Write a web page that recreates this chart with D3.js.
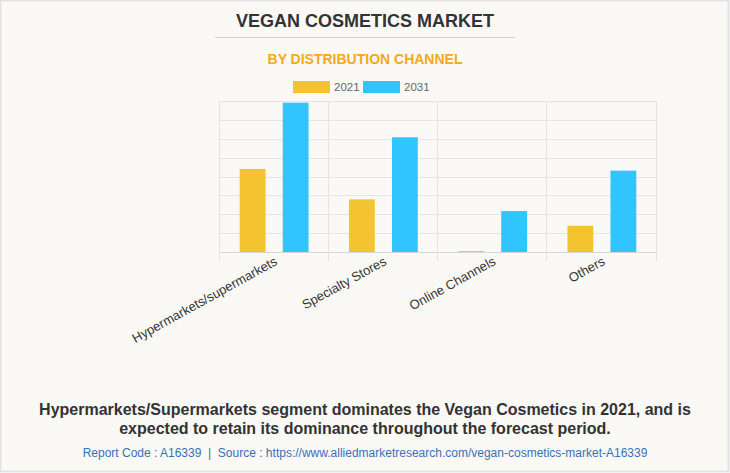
<!DOCTYPE html>
<html><head><meta charset="utf-8">
<script src="https://cdn.jsdelivr.net/npm/d3@7"></script>
<style>
html,body{margin:0;padding:0;background:#fff;}
svg{display:block;font-family:"Liberation Sans",Arial,sans-serif;}
</style></head>
<body><svg id="c" width="730" height="473"></svg>
<script>
const categories = ["Hypermarkets/supermarkets","Specialty Stores","Online Channels","Others"];
const seriesNames = ["2021","2031"];
const values2021 = [4.40, 2.79, 0.05, 1.39];
const values2031 = [7.91, 6.08, 2.17, 4.31];
const yTicks = [0,1,2,3,4,5,6,7,8];
const colors = ["#F4C430","#30C5FF"];

(function(){
const svg = d3.select("#c");
svg.append("rect").attr("x",0.5).attr("y",0.5).attr("width",728).attr("height",471)
  .attr("fill","#FAF9F5").attr("stroke","#e3e3e3").attr("stroke-width",2);

svg.append("text").attr("x",365).attr("y",27).attr("text-anchor","middle")
  .attr("font-size",18).attr("font-weight","bold").attr("fill","#333")
  .text("VEGAN COSMETICS MARKET");
svg.append("line").attr("x1",215).attr("x2",515).attr("y1",37.5).attr("y2",37.5)
  .attr("stroke","#cfcfcf").attr("stroke-width",1);
svg.append("text").attr("x",365).attr("y",64).attr("text-anchor","middle")
  .attr("font-size",14).attr("font-weight","bold").attr("fill","#F6A821")
  .text("BY DISTRIBUTION CHANNEL");

const leg = [{x:293,name:seriesNames[0],c:colors[0]},{x:363,name:seriesNames[1],c:colors[1]}];
leg.forEach(l=>{
  svg.append("rect").attr("x",l.x).attr("y",81).attr("width",37).attr("height",12).attr("fill",l.c);
  svg.append("text").attr("x",l.x+41).attr("y",91).attr("font-size",11.5).attr("fill","#666").text(l.name);
});

const pLeft=219.5, pRight=656.5, pTop=101, pBottom=252;
const x = d3.scaleBand().domain(categories).range([pLeft,pRight]);
const y = d3.scaleLinear().domain([0,8]).range([pBottom,pTop]);

const g = svg.append("g");
g.selectAll("line.h").data(yTicks).join("line")
  .attr("x1",pLeft).attr("x2",pRight)
  .attr("y1",d=>Math.round(y(d))+0.5).attr("y2",d=>Math.round(y(d))+0.5)
  .attr("stroke",d=>d===0?"#d6d6d6":"#e4e4e4").attr("stroke-width",1);
const bounds = categories.map(c=>x(c)).concat([pRight]);
g.selectAll("line.v").data(bounds).join("line")
  .attr("x1",d=>Math.round(d)-0.5).attr("x2",d=>Math.round(d)-0.5)
  .attr("y1",pTop).attr("y2",pBottom+9)
  .attr("stroke","#e4e4e4").attr("stroke-width",1);

const xs = d3.scaleBand().domain(seriesNames).range([0,x.bandwidth()]).paddingInner(0.4).paddingOuter(0.47);
const data = categories.map((c,i)=>({c, v:[values2021[i],values2031[i]]}));
const grp = g.selectAll("g.cat").data(data).join("g").attr("transform",d=>`translate(${x(d.c)},0)`);
grp.selectAll("rect").data(d=>d.v.map((v,j)=>({v,s:seriesNames[j],j}))).join("rect")
  .attr("x",d=>xs(d.s)).attr("width",xs.bandwidth())
  .attr("y",d=>y(d.v)).attr("height",d=>Math.max(0.8,y(0)-y(d.v)))
  .attr("fill",d=>colors[d.j]);

svg.selectAll("text.xl").data(categories).join("text")
  .attr("transform",c=>`translate(${x(c)+x.bandwidth()/2+4},${264}) rotate(-29)`)
  .attr("text-anchor","end").attr("font-size",13).attr("fill","#333").text(c=>c);

svg.append("text").attr("x",365).attr("y",415).attr("text-anchor","middle")
  .attr("font-size",16).attr("font-weight","bold").attr("fill","#333")
  .text("Hypermarkets/Supermarkets segment dominates the Vegan Cosmetics in 2021, and is");
svg.append("text").attr("x",365).attr("y",434).attr("text-anchor","middle")
  .attr("font-size",16).attr("font-weight","bold").attr("fill","#333")
  .text("expected to retain its dominance throughout the forecast period.");
svg.append("text").attr("x",365).attr("y",457).attr("text-anchor","middle")
  .attr("font-size",12).attr("fill","#3A70B8").style("white-space","pre")
  .text("Report Code : A16339  |  Source : https://www.alliedmarketresearch.com/vegan-cosmetics-market-A16339");
})();
</script></body></html>
